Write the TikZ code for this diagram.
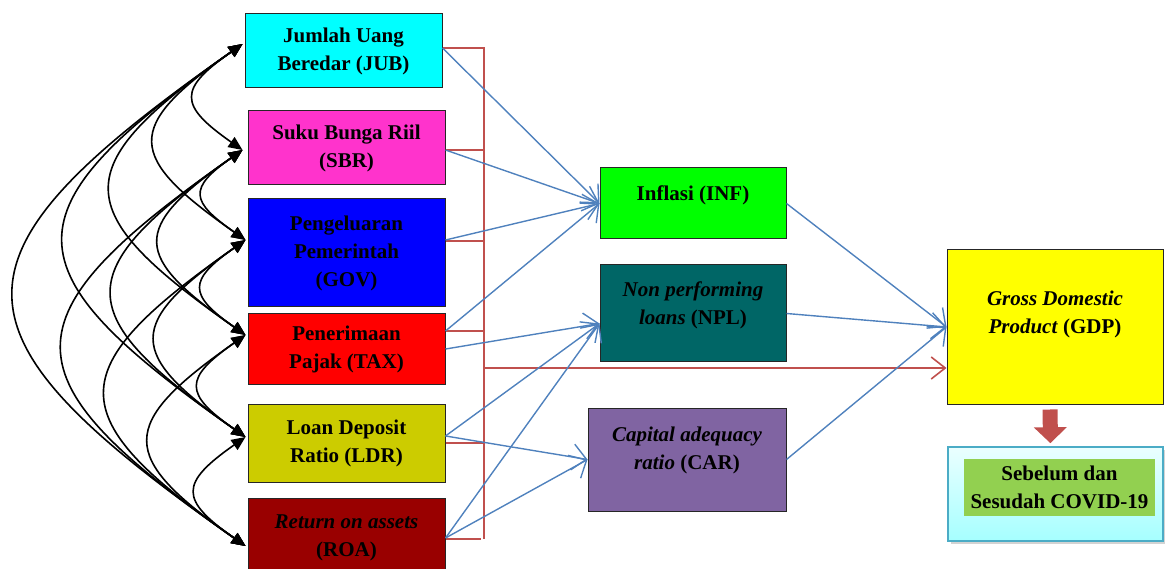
\documentclass[tikz,border=0pt]{standalone}
\usepackage{fontspec}
\setmainfont{Liberation Serif}
\usepackage{tikz}
\usetikzlibrary{arrows.meta,calc,shadows}

\definecolor{jubcyan}{RGB}{0,255,255}
\definecolor{sbrpink}{RGB}{255,51,204}
\definecolor{govblue}{RGB}{0,0,255}
\definecolor{taxred}{RGB}{255,0,0}
\definecolor{ldrolive}{RGB}{204,204,0}
\definecolor{roamaroon}{RGB}{153,0,0}
\definecolor{infgreen}{RGB}{0,255,0}
\definecolor{nplteal}{RGB}{0,102,102}
\definecolor{carpurple}{RGB}{128,100,162}
\definecolor{gdpyellow}{RGB}{255,255,0}
\definecolor{linkblue}{RGB}{79,129,189}
\definecolor{linkred}{RGB}{192,80,77}
\definecolor{covidgreen}{RGB}{146,208,80}
\definecolor{covidedge}{RGB}{75,172,198}

\begin{document}
\begin{tikzpicture}[x=1pt,y=1pt,yscale=-1,
  box/.style={draw=black!85, line width=1pt, fill=#1, inner sep=0pt, align=center, font=\bfseries\fontsize{21}{28}\selectfont},
  corr/.style={line width=1.6pt, {Triangle[length=14pt,width=12pt]}-{Triangle[length=14pt,width=12pt]}, out=145, in=215, looseness=1.9},
  blueln/.style={draw=linkblue, line width=1.4pt, -{Straight Barb[length=14pt,width=26pt]}},
  redln/.style={draw=linkred, line width=1.6pt}]
\useasboundingbox (0,0) rectangle (1165,569);

%Shape: Rectangle [JUB]
\node[box=jubcyan, minimum width=197pt, minimum height=74pt] (JUB) at (343.5,51) {Jumlah Uang\\Beredar (JUB)};
%Shape: Rectangle [SBR]
\node[box=sbrpink, minimum width=197pt, minimum height=74pt] (SBR) at (346.5,148) {Suku Bunga Riil\\(SBR)};
%Shape: Rectangle [GOV]
\node[box=govblue, minimum width=197pt, minimum height=108pt] (GOV) at (346.5,253) {Pengeluaran\\Pemerintah\\(GOV)};
%Shape: Rectangle [TAX]
\node[box=taxred, minimum width=197pt, minimum height=70pt] (TAX) at (346.5,349) {Penerimaan\\Pajak (TAX)};
%Shape: Rectangle [LDR]
\node[box=ldrolive, minimum width=197pt, minimum height=78pt] (LDR) at (346.5,443) {Loan Deposit\\Ratio (LDR)};
%Shape: Rectangle [ROA]
\node[box=roamaroon, minimum width=197pt, minimum height=80pt] (ROA) at (346.5,538) {\textit{Return on assets}\\(ROA)};

%Shape: Rectangle [INF]
\node[box=infgreen, minimum width=186pt, minimum height=71pt, text height=15pt, text depth=20pt] (INF) at (693,203.5) {Inflasi (INF)};
%Shape: Rectangle [NPL]
\node[box=nplteal, minimum width=186pt, minimum height=97pt, text height=43pt, text depth=21pt] (NPL) at (693,313.5) {\textit{Non performing}\\\textit{loans} (NPL)};
%Shape: Rectangle [CAR]
\node[box=carpurple, minimum width=198pt, minimum height=103pt, text height=43pt, text depth=23pt] (CAR) at (687,459.5) {\textit{Capital adequacy}\\\textit{ratio} (CAR)};
%Shape: Rectangle [GDP]
\node[box=gdpyellow, minimum width=216pt, minimum height=154pt, text height=43pt, text depth=29pt] (GDP) at (1055,327) {\textit{Gross Domestic}\\\textit{Product} (GDP)};

%Shape: Rectangle [COVID]
\node[draw=covidedge, line width=1.5pt, top color=cyan!8, bottom color=cyan!35!white, drop shadow={shadow xshift=3pt, shadow yshift=-3pt, opacity=0.35}, minimum width=215pt, minimum height=94pt] (COVID) at (1055.5,494) {};
% Text Node
\node[box=covidgreen, draw=none, minimum width=191pt, minimum height=57pt] (COVIDtxt) at (1059.5,487.5) {Sebelum dan\\Sesudah COVID-19};

%Block Arrow
\draw[draw=linkred, line width=15pt, -{Triangle[length=16pt,width=32pt]}, shorten <=5pt, shorten >=3pt] ($(GDP.south)+(-5,0)$) -- ($(COVID.north)+(-5,0)$);

%Curve Lines
\draw[corr] ($(JUB.west)+(-2,-7)$) to ($(SBR.west)+(-5,2)$);
\draw[corr] ($(JUB.west)+(-2,-7)$) to ($(GOV.west)+(-2,-13)$);
\draw[corr] ($(JUB.west)+(-2,-7)$) to ($(TAX.west)+(-2,-14)$);
\draw[corr] ($(JUB.west)+(-2,-7)$) to ($(LDR.west)+(-2,-6)$);
\draw[corr] ($(JUB.west)+(-2,-7)$) to ($(ROA.west)+(-2,8)$);
\draw[corr] ($(SBR.west)+(-5,2)$) to ($(GOV.west)+(-2,-13)$);
\draw[corr] ($(SBR.west)+(-5,2)$) to ($(TAX.west)+(-2,-14)$);
\draw[corr] ($(SBR.west)+(-5,2)$) to ($(LDR.west)+(-2,-6)$);
\draw[corr] ($(SBR.west)+(-5,2)$) to ($(ROA.west)+(-2,8)$);
\draw[corr] ($(GOV.west)+(-2,-13)$) to ($(TAX.west)+(-2,-14)$);
\draw[corr] ($(GOV.west)+(-2,-13)$) to ($(LDR.west)+(-2,-6)$);
\draw[corr] ($(GOV.west)+(-2,-13)$) to ($(ROA.west)+(-2,8)$);
\draw[corr] ($(TAX.west)+(-2,-14)$) to ($(LDR.west)+(-2,-6)$);
\draw[corr] ($(TAX.west)+(-2,-14)$) to ($(ROA.west)+(-2,8)$);
\draw[corr] ($(LDR.west)+(-2,-6)$) to ($(ROA.west)+(-2,8)$);

%Red bracket
\coordinate (brk) at (484,0);
\coordinate (JUBr) at ($(JUB.east)+(0,-3)$);
\coordinate (SBRr) at ($(SBR.east)+(0,2)$);
\coordinate (GOVr) at ($(GOV.east)+(0,-12)$);
\coordinate (TAXr) at ($(TAX.east)+(0,-18)$);
\coordinate (ROAr) at ($(ROA.east)+(0,1)$);
\coordinate (gdpin) at ($(GDP.west)+(0,41)$);
\draw[redln] (JUBr) -- (JUBr -| brk) -- (ROAr -| brk);
\draw[redln] (ROAr) -- ($(ROAr -| brk)+(-3,0)$);
\draw[redln] (SBRr) -- (SBRr -| brk);
\draw[redln] (GOVr) -- (GOVr -| brk);
\draw[redln] (TAXr) -- (TAXr -| brk);
\draw[redln] (LDR.east) -- (LDR.east -| brk);
\draw[redln, -{Straight Barb[length=14pt,width=22pt]}] (gdpin -| brk) -- (gdpin);

%Straight Lines
\draw[blueln] (JUBr) -- (INF.west);
\draw[blueln] (SBRr) -- (INF.west);
\draw[blueln] ($(GOV.east)+(0,-13)$) -- (INF.west);
\draw[blueln] (TAXr) -- (INF.west);
\draw[blueln] (TAX.east) -- ($(NPL.west)+(0,10)$);
\draw[blueln] ($(LDR.east)+(0,-7)$) -- ($(NPL.west)+(0,10)$);
\draw[blueln] ($(LDR.east)+(0,-7)$) -- (CAR.west);
\draw[blueln] (ROA.east) -- ($(NPL.west)+(0,10)$);
\draw[blueln] (ROA.east) -- (CAR.west);
\draw[blueln] (INF.east) -- (GDP.west);
\draw[blueln] (NPL.east) -- (GDP.west);
\draw[blueln] (CAR.east) -- (GDP.west);
\end{tikzpicture}
\end{document}
